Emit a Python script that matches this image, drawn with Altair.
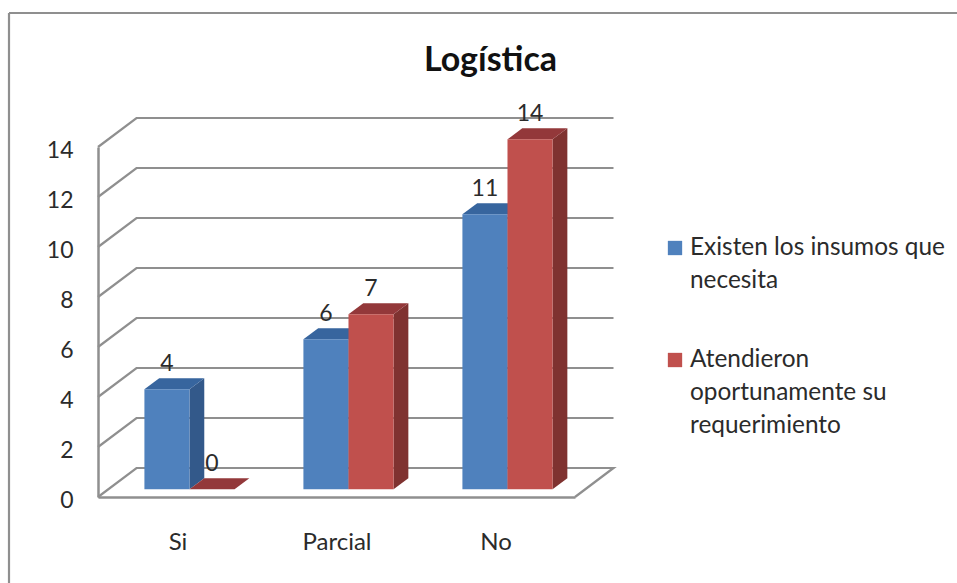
import json

import altair as alt
import pandas as pd

# Chart values
categories = ["Si", "Parcial", "No"]
series_names = ["Existen los insumos que necesita", "Atendieron oportunamente su requerimiento"]
existen = [4, 6, 11]
atendieron = [0, 7, 14]
y_ticks = [0, 2, 4, 6, 8, 10, 12, 14]
legend_lines = [["Existen los insumos que", "necesita"],
                ["Atendieron", "oportunamente su", "requerimiento"]]

# Face colours per series: front, side, top
palette = [("#4F81BD", "#33598A", "#37659E"), ("#C0504D", "#7F3230", "#93383A")]
GRID = "#8F8F8F"
INK = "#2B2B2B"
FONT = "Lato"

# Canvas layout
W, H = 957, 583
PLOT_L, PLOT_T, PLOT_W, PLOT_H = 98, 147, 477, 350
X_PER_CAT = PLOT_W / len(categories)
Y_PER_UNIT = PLOT_H / 14

# Oblique projection: a full wall depth in axis units
DEPTH_X = 38.5 / X_PER_CAT
DEPTH_Y = 29 / Y_PER_UNIT
# Bars occupy this slice of the depth, and these widths within a category
Z0, Z1 = 0.266, 0.65
BAR_LEFT, BAR_W = 0.2275, 0.2835


def project(x, y, z):
    return x + z * DEPTH_X, y + z * DEPTH_Y


x_scale = alt.Scale(domain=[0, len(categories)], nice=False, zero=False)
y_scale = alt.Scale(domain=[0, 14], nice=False, zero=False)
labels_js = json.dumps(categories)

x_axis = alt.Axis(
    values=[i + 0.5 for i in range(len(categories))],
    labelExpr=f"{labels_js}[floor(datum.value)]",
    title=None, grid=False, ticks=False, domainColor=GRID, domainWidth=2.5,
    labelFont=FONT, labelFontSize=24, labelColor=INK, labelPadding=33, labelAngle=0,
)
y_axis = alt.Axis(
    values=y_ticks, title=None, grid=False, ticks=False, domainColor=GRID, domainWidth=2.5,
    labelFont=FONT, labelFontSize=23, labelColor=INK, labelPadding=25, labelOffset=3,
)


def X(field="x"):
    return alt.X(f"{field}:Q", scale=x_scale, axis=x_axis)


def Y(field="y"):
    return alt.Y(f"{field}:Q", scale=y_scale, axis=y_axis)


# Wall and floor lines behind the bars
wall_rows = []
for v in y_ticks:
    points = [project(0, v, 0), project(0, v, 1), project(len(categories), v, 1)]
    if v == 0:
        points.append(project(len(categories), v, 0))
    for i, (px, py) in enumerate(points):
        wall_rows.append({"v": v, "i": i, "x": px, "y": py})

walls = alt.Chart(pd.DataFrame(wall_rows)).mark_line(color=GRID, strokeWidth=2.2, strokeJoin="miter").encode(
    x=X(), y=Y(), detail="v:N", order="i:Q",
)


def bar_layers(values, offset, colors):
    front_c, side_c, top_c = colors
    fronts, sides, tops = [], [], []
    for c, val in enumerate(values):
        left = c + BAR_LEFT + offset * BAR_W
        right = left + BAR_W
        x0, base0 = project(left, 0, Z0)
        x1, top0 = project(right, val, Z0)
        x1b, base1 = project(right, 0, Z1)
        _, top1 = project(right, val, Z1)
        x0b, _ = project(left, 0, Z1)
        fronts.append({"c": c, "x": x0, "x2": x1, "y": base0, "y2": top0, "value": val, "mid": (x0 + x1) / 2})
        sides += [{"c": c, "x": x1, "y": top0, "y2": base0}, {"c": c, "x": x1b, "y": top1, "y2": base1}]
        tops += [{"c": c, "y": top0, "x": x0, "x2": x1}, {"c": c, "y": top1, "x": x0b, "x2": x1b}]
    side = alt.Chart(pd.DataFrame(sides)).mark_area(color=side_c, orient="vertical").encode(
        x=X(), y=Y(), y2="y2:Q", detail="c:N")
    top = alt.Chart(pd.DataFrame(tops)).mark_area(color=top_c, orient="horizontal").encode(
        y=Y(), x=X(), x2="x2:Q", detail="c:N")
    front = alt.Chart(pd.DataFrame(fronts)).mark_rect(color=front_c).encode(
        x=X(), x2="x2:Q", y=Y(), y2="y2:Q")
    text = alt.Chart(pd.DataFrame(fronts)).mark_text(
        font=FONT, fontSize=23, color=INK, baseline="middle", dy=-25,
    ).encode(x=X("mid"), y=Y("y2"), text="value:Q")
    return [side, top, front], text


blue_faces, blue_text = bar_layers(existen, 0, palette[0])
red_faces, red_text = bar_layers(atendieron, 1, palette[1])

# Legend drawn entry by entry so wrapped labels keep their wide line spacing
LEG_SWATCH_X, LEG_TEXT_X, LEG_Y, LEG_LINE, LEG_ENTRY = 675, 690, 248, 33, 112
swatch_rows, line_rows = [], []
for n, lines in enumerate(legend_lines):
    entry_y = LEG_Y + n * LEG_ENTRY
    swatch_rows.append({"name": series_names[n], "x": LEG_SWATCH_X - PLOT_L, "y": entry_y - PLOT_T})
    for k, line in enumerate(lines):
        line_rows.append({"line": line, "x": LEG_TEXT_X - PLOT_L, "y": entry_y + k * LEG_LINE - PLOT_T})

# Pixel-placed layers stay on their own layer group so they do not disturb the shared axes
swatches = alt.Chart(pd.DataFrame(swatch_rows)).mark_square(size=205, opacity=1).encode(
    x=alt.X("x:Q", scale=None, axis=None),
    y=alt.Y("y:Q", scale=None, axis=None),
    color=alt.Color("name:N", legend=None, scale=alt.Scale(
        domain=series_names, range=[palette[0][0], palette[1][0]])),
)
legend_text = alt.Chart(pd.DataFrame(line_rows)).mark_text(
    font=FONT, fontSize=24.4, color=INK, align="left", baseline="middle",
).encode(
    x=alt.X("x:Q", scale=None, axis=None),
    y=alt.Y("y:Q", scale=None, axis=None),
    text="line:N",
)

# Outer frame along the top and left edges
frame_left = alt.Chart(pd.DataFrame({"a": [0]})).mark_rule(color=GRID, strokeWidth=2.2).encode(
    x=alt.value(9 - PLOT_L), y=alt.value(13 - PLOT_T), y2=alt.value(H - PLOT_T))
frame_top = alt.Chart(pd.DataFrame({"a": [0]})).mark_rule(color=GRID, strokeWidth=2.2).encode(
    x=alt.value(9 - PLOT_L), x2=alt.value(W - PLOT_L), y=alt.value(13 - PLOT_T))

chart = alt.layer(
    walls, *blue_faces, *red_faces, blue_text, red_text, swatches, legend_text, frame_left, frame_top
).properties(
    width=PLOT_W,
    height=PLOT_H,
    autosize=alt.AutoSizeParams(type="none"),
    padding={"left": PLOT_L, "top": PLOT_T, "right": W - PLOT_L - PLOT_W, "bottom": H - PLOT_T - PLOT_H},
    title=alt.TitleParams(
        "Logística", font=FONT, fontSize=34, fontWeight="bold", color="#111111",
        anchor="middle", dx=154, offset=-93, baseline="alphabetic",
    ),
    background="white",
).configure_view(stroke=None)

chart.save("out.html", embed_options={"renderer": "svg", "actions": False})
